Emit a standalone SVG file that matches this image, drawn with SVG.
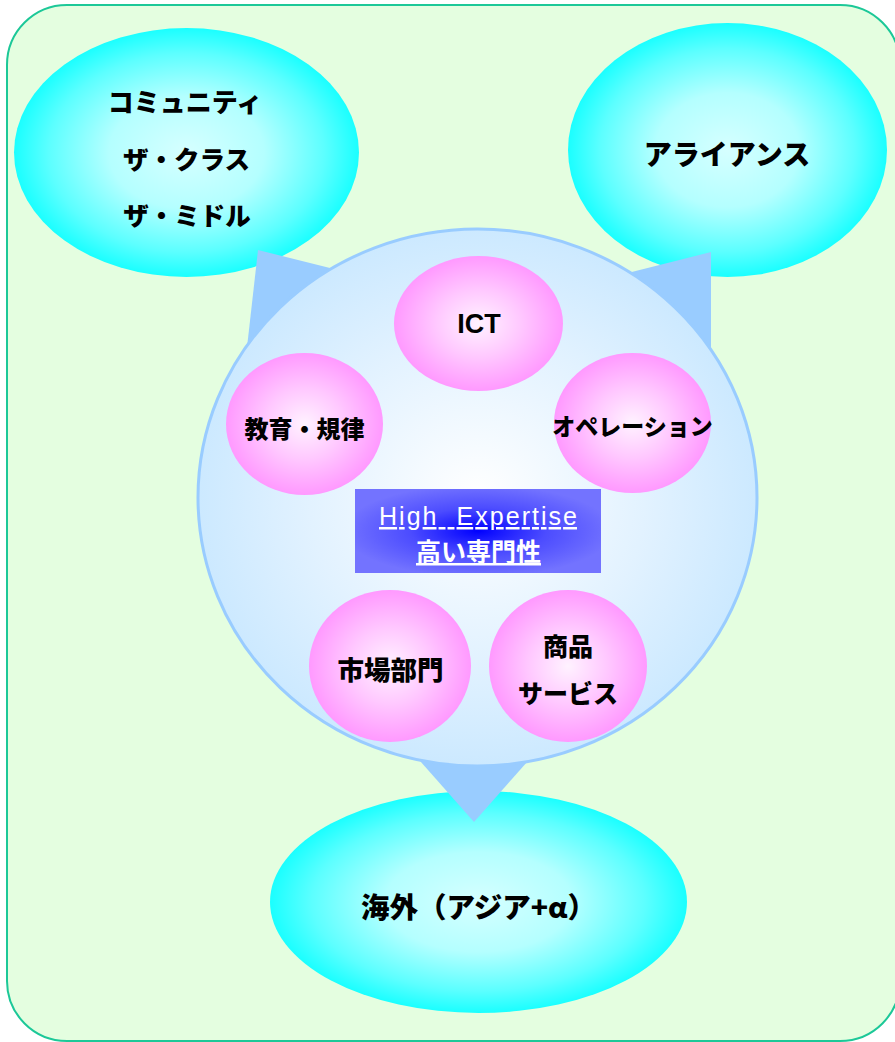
<svg xmlns="http://www.w3.org/2000/svg" width="895" height="1042" viewBox="0 0 895 1042">
<defs>
  <radialGradient id="cyanG" cx="0.5" cy="0.5" r="0.5">
    <stop offset="0" stop-color="#d6ffff"/>
    <stop offset="0.45" stop-color="#b4ffff"/>
    <stop offset="0.8" stop-color="#5cffff"/>
    <stop offset="1" stop-color="#1affff"/>
  </radialGradient>
  <radialGradient id="pinkG" cx="0.5" cy="0.5" r="0.5">
    <stop offset="0" stop-color="#fff2ff"/>
    <stop offset="0.5" stop-color="#ffc8ff"/>
    <stop offset="1" stop-color="#ff99ff"/>
  </radialGradient>
  <radialGradient id="bigG" cx="0.5" cy="0.5" r="0.5">
    <stop offset="0" stop-color="#ffffff"/>
    <stop offset="0.6" stop-color="#e2f2ff"/>
    <stop offset="1" stop-color="#cce9ff"/>
  </radialGradient>
  <radialGradient id="blueG" cx="0.5" cy="0.5" r="0.55">
    <stop offset="0" stop-color="#0000ff"/>
    <stop offset="0.5" stop-color="#4c4cff"/>
    <stop offset="1" stop-color="#7373ff"/>
  </radialGradient>
  <style>
    .cyan { fill: url(#cyanG); }
    .pink { fill: url(#pinkG); }
    .wedge { fill: #99ccff; }
    .lbl { font-family: "Noto Sans CJK JP", "Noto Sans", sans-serif; font-weight: 900; fill: #000; text-anchor: middle; dominant-baseline: central; }
    .wt { fill: #ffffff; text-anchor: middle; text-decoration: underline; }
  </style>
</defs>

<rect id="background" x="7" y="5" width="893" height="1036" rx="60" ry="60" fill="#e4fee0" stroke="#1cc898" stroke-width="2"/>

<g id="node-community">
  <ellipse class="cyan" cx="186.5" cy="152.5" rx="172.5" ry="124.5"/>
  <text class="lbl" x="185" y="100" font-size="26">コミュニティ</text>
  <text class="lbl" x="186.5" y="157" font-size="25.5">ザ・クラス</text>
  <text class="lbl" x="187" y="213" font-size="25.5">ザ・ミドル</text>
</g>

<g id="node-alliance">
  <ellipse class="cyan" cx="727.5" cy="150" rx="159.5" ry="127"/>
  <text class="lbl" x="727" y="153" font-size="28">アライアンス</text>
</g>

<g id="node-overseas">
  <ellipse class="cyan" cx="478.5" cy="902" rx="208.5" ry="111"/>
  <text class="lbl" x="478.5" y="905" font-size="28.5">海外（アジア+α）</text>
</g>

<g id="connectors">
  <polygon class="wedge" points="258,250 370,278 245,365"/>
  <polygon class="wedge" points="711,252 600,280 711,370"/>
  <polygon class="wedge" points="474,822 405,744 543,744"/>
</g>

<g id="node-core">
  <ellipse cx="477.5" cy="497.5" rx="279.5" ry="268.5" fill="url(#bigG)" stroke="#99ccff" stroke-width="3"/>
</g>

<g id="node-ict">
  <ellipse class="pink" cx="478.5" cy="323.5" rx="84.5" ry="67.5"/>
  <text x="479" y="333" font-family="'Liberation Sans', Arial, sans-serif" font-weight="bold" font-size="27" text-anchor="middle" fill="#000">ICT</text>
</g>

<g id="node-education">
  <ellipse class="pink" cx="304.5" cy="424" rx="78.5" ry="71"/>
  <text class="lbl" x="304.5" y="427" font-size="24">教育・規律</text>
</g>

<g id="node-operation">
  <ellipse class="pink" cx="632.5" cy="423" rx="78.5" ry="70"/>
  <text class="lbl" x="632.5" y="425" font-size="23">オペレーション</text>
</g>

<g id="node-market">
  <ellipse class="pink" cx="390" cy="666" rx="81" ry="76"/>
  <text class="lbl" x="390.5" y="668" font-size="26.5">市場部門</text>
</g>

<g id="node-product">
  <ellipse class="pink" cx="568" cy="666" rx="79" ry="76"/>
  <text class="lbl" x="568" y="645" font-size="25">商品</text>
  <text class="lbl" x="568" y="692" font-size="25">サービス</text>
</g>

<g id="node-expertise">
  <rect x="355" y="489" width="246" height="84" fill="url(#blueG)"/>
  <text class="wt" x="478" y="525" font-family="'Liberation Sans', Arial, sans-serif" font-size="25" textLength="198" lengthAdjust="spacing" xml:space="preserve">High  Expertise</text>
  <text class="wt" x="478.5" y="561" font-family="'Noto Sans CJK JP', 'Noto Sans', sans-serif" font-weight="bold" font-size="25">高い専門性</text>
</g>
</svg>
